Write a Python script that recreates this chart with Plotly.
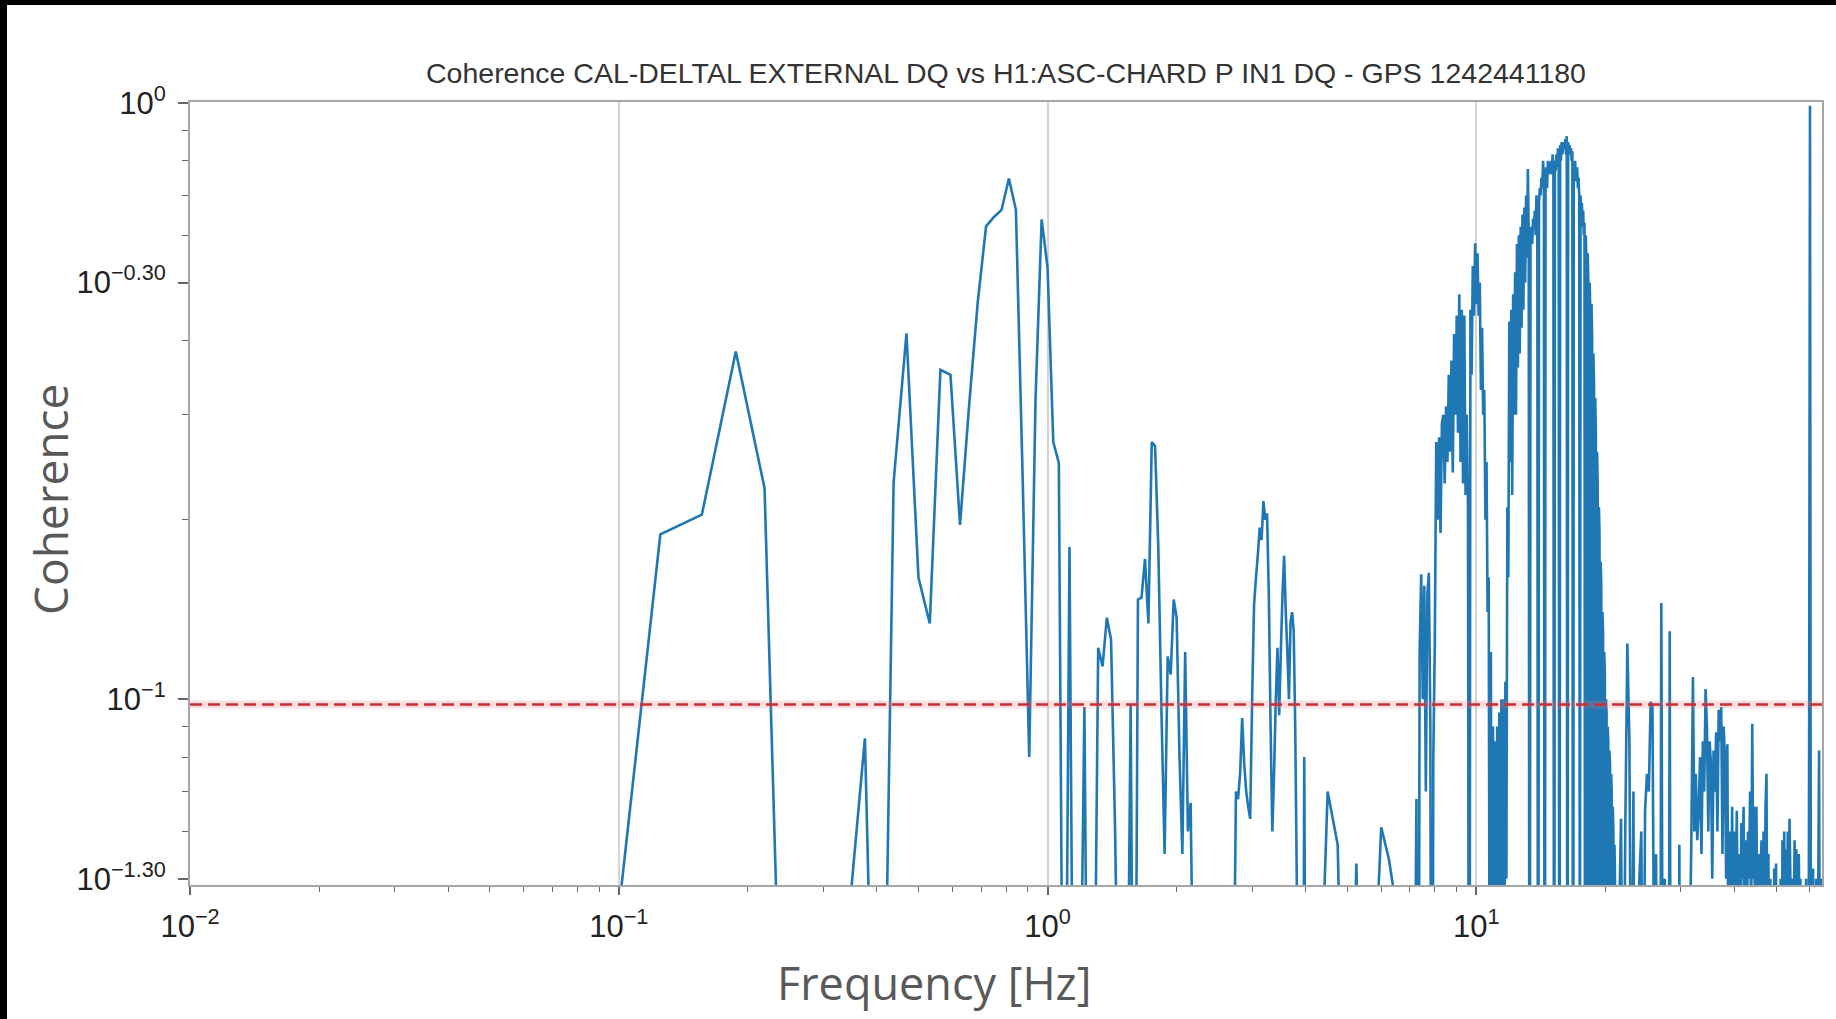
import numpy as np
import plotly.graph_objects as go

# ---------------- data ----------------
TITLE = "Coherence CAL-DELTAL EXTERNAL DQ vs H1:ASC-CHARD P IN1 DQ - GPS 1242441180"
X_LABEL = "Frequency [Hz]"
Y_LABEL = "Coherence"

# band 1: 1/32 Hz resolution, 0.03125 .. 4.0 Hz
LOW_START = 1 / 32
LOW_STEP = 1 / 32
LOW_COH = [
    0.02, 0.015, 0.029, 0.189, 0.204, 0.383, 0.226, 0.008, 0.01, 0.01,
    0.043, 0.086, 0.008, 0.231, 0.411, 0.16, 0.134, 0.357, 0.35, 0.196,
    0.311, 0.464, 0.621, 0.644, 0.662, 0.747, 0.662, 0.234, 0.08, 0.319,
    0.638, 0.53, 0.27, 0.249, 0.01, 0.18, 0.01, 0.02, 0.097, 0.01,
    0.02, 0.122, 0.1135, 0.137, 0.126, 0.06, 0.02, 0.01, 0.02, 0.098,
    0.01, 0.147, 0.148, 0.172, 0.134, 0.27, 0.266, 0.18, 0.095, 0.055,
    0.118, 0.11, 0.147, 0.137, 0.08, 0.055, 0.12, 0.06, 0.067, 0.03,
    0.02, 0.01, 0.02, 0.015, 0.02, 0.01, 0.02, 0.02, 0.01, 0.015,
    0.02, 0.01, 0.02, 0.02, 0.015, 0.02, 0.03, 0.07, 0.068, 0.075,
    0.093, 0.078, 0.07, 0.066, 0.063, 0.1, 0.144, 0.16, 0.175, 0.194,
    0.185, 0.215, 0.2, 0.205, 0.15, 0.09, 0.06, 0.075, 0.1, 0.122,
    0.094, 0.12, 0.15, 0.174, 0.14, 0.12, 0.1, 0.135, 0.14, 0.13,
    0.09, 0.05, 0.02, 0.01, 0.02, 0.01, 0.08, 0.02,
]

# band 2: 4.25 .. 7.0 Hz
MID_START = 4.25
MID_STEP = 0.25
MID_COH = [0.02, 0.07, 0.057, 0.01, 0.053, 0.01, 0.03, 0.061, 0.054, 0.045, 0.01, 0.03]

# band 3: 7.0625 .. 21.0 Hz (one row per Hz)
HIGH_START = 7.0625
HIGH_STEP = 0.0625
HIGH_COH = [
    0.01, 0.005, 0.03, 0.068, 0.005, 0.12, 0.162, 0.1, 0.155, 0.07, 0.15, 0.163, 0.09, 0.005, 0.08, 0.123,
    0.27, 0.2, 0.275, 0.19, 0.29, 0.3, 0.23, 0.31, 0.25, 0.35, 0.26, 0.37, 0.24, 0.41, 0.3, 0.44,
    0.28, 0.478, 0.25, 0.45, 0.23, 0.44, 0.22, 0.3, 0.21, 0.005, 0.45, 0.35, 0.533, 0.44, 0.582, 0.46,
    0.56, 0.44, 0.5, 0.33, 0.42, 0.3, 0.33, 0.2, 0.25, 0.14, 0.16, 0.02, 0.12, 0.02, 0.09, 0.01,
    0.085, 0.02, 0.09, 0.01, 0.095, 0.03, 0.1, 0.02, 0.1, 0.03, 0.107, 0.05, 0.21, 0.16, 0.43, 0.25,
    0.45, 0.22, 0.478, 0.3, 0.52, 0.3, 0.58, 0.36, 0.6, 0.38, 0.62, 0.42, 0.65, 0.45, 0.668, 0.5,
    0.7, 0.55, 0.775, 0.6, 0.005, 0.6, 0.62, 0.58, 0.64, 0.62, 0.66, 0.6, 0.7, 0.66, 0.005, 0.68,
    0.72, 0.7, 0.75, 0.72, 0.8, 0.74, 0.005, 0.76, 0.78, 0.72, 0.8, 0.77, 0.76, 0.78, 0.8, 0.76,
    0.82, 0.78, 0.005, 0.8, 0.77, 0.82, 0.78, 0.84, 0.8, 0.005, 0.85, 0.8, 0.86, 0.82, 0.84, 0.86,
    0.84, 0.87, 0.82, 0.88, 0.005, 0.86, 0.83, 0.85, 0.82, 0.84, 0.8, 0.83, 0.005, 0.8, 0.78, 0.8,
    0.74, 0.76, 0.78, 0.72, 0.75, 0.7, 0.02, 0.7, 0.64, 0.68, 0.62, 0.66, 0.6, 0.63, 0.01, 0.6,
    0.54, 0.03, 0.56, 0.5, 0.01, 0.5, 0.45, 0.04, 0.46, 0.4, 0.02, 0.38, 0.34, 0.03, 0.32, 0.28,
    0.02, 0.26, 0.23, 0.04, 0.21, 0.19, 0.03, 0.17, 0.155, 0.02, 0.14, 0.13, 0.03, 0.12, 0.11, 0.02,
    0.1, 0.095, 0.02, 0.09, 0.085, 0.01, 0.082, 0.078, 0.02, 0.075, 0.07, 0.02, 0.066, 0.06, 0.01, 0.057,
]

# band 4: 21.25 .. 64.0 Hz
TOP_START = 21.25
TOP_STEP = 0.25
TOP_COH = [
    0.03, 0.04, 0.063, 0.02, 0.06, 0.124, 0.085, 0.02, 0.07, 0.005,
    0.03, 0.05, 0.06, 0.02, 0.065, 0.075, 0.07, 0.099, 0.097, 0.03,
    0.055, 0.02, 0.005, 0.145, 0.02, 0.05, 0.03, 0.005, 0.13, 0.005,
    0.04, 0.02, 0.03, 0.005, 0.057, 0.005, 0.03, 0.04, 0.02, 0.03,
    0.045, 0.04, 0.06, 0.109, 0.06, 0.075, 0.058, 0.065, 0.08, 0.055,
    0.085, 0.07, 0.104, 0.09, 0.06, 0.085, 0.078, 0.05, 0.082, 0.07,
    0.088, 0.06, 0.096, 0.085, 0.097, 0.055, 0.09, 0.08, 0.05, 0.084,
    0.03, 0.06, 0.04, 0.066, 0.03, 0.06, 0.045, 0.065, 0.04, 0.055,
    0.03, 0.062, 0.05, 0.066, 0.03, 0.058, 0.04, 0.06, 0.05, 0.07,
    0.04, 0.091, 0.05, 0.066, 0.03, 0.066, 0.04, 0.055, 0.02, 0.05,
    0.058, 0.03, 0.06, 0.04, 0.066, 0.075, 0.03, 0.055, 0.02, 0.05,
    0.03, 0.045, 0.02, 0.052, 0.03, 0.053, 0.02, 0.04, 0.005, 0.03,
    0.05, 0.02, 0.058, 0.04, 0.06, 0.03, 0.056, 0.04, 0.06, 0.03,
    0.063, 0.05, 0.02, 0.05, 0.03, 0.045, 0.058, 0.03, 0.056, 0.04,
    0.02, 0.055, 0.04, 0.05, 0.02, 0.04, 0.045, 0.03, 0.04, 0.02,
    0.05, 0.03, 0.04, 0.02, 0.1, 0.99, 0.05, 0.02, 0.04, 0.052,
    0.03, 0.02, 0.04, 0.05, 0.02, 0.04, 0.05, 0.082, 0.03, 0.04,
    0.045, 0.05,
]

THRESHOLD = 0.098
X_RANGE_HZ = [0.01, 64.0]
Y_RANGE = [0.0488, 1.004]

X_TICKS = [0.01, 0.1, 1, 10]
X_TICKTEXT = ["10<sup>\u22122</sup>", "10<sup>\u22121</sup>", "10<sup>0</sup>", "10<sup>1</sup>"]
Y_TICKS = [1.0, 0.5, 0.1, 0.05]
Y_TICKTEXT = ["10<sup>0</sup>", "10<sup>\u22120.30</sup>", "10<sup>\u22121</sup>", "10<sup>\u22121.30</sup>"]
Y_MINOR = [0.9, 0.8, 0.7, 0.6, 0.4, 0.3, 0.2, 0.09, 0.08, 0.07, 0.06]
X_MINOR = [m * d for d in (0.01, 0.1, 1, 10) for m in range(2, 10) if m * d <= 64]

# ---------------- build ----------------
def band(start, step, vals):
    return start + step * np.arange(len(vals))

freq = np.concatenate([
    band(LOW_START, LOW_STEP, LOW_COH),
    band(MID_START, MID_STEP, MID_COH),
    band(HIGH_START, HIGH_STEP, HIGH_COH),
    band(TOP_START, TOP_STEP, TOP_COH),
])
coh = np.concatenate([LOW_COH, MID_COH, HIGH_COH, TOP_COH])

W, H = 1836, 1019
L, R, T, B = 190, 14, 102, 134
PW, PH = W - L - R, H - T - B

fig = go.Figure()
fig.add_trace(go.Scatter(
    x=freq, y=coh, mode="lines",
    line=dict(color="#1f77b4", width=2.6, simplify=False),
    hoverinfo="skip", showlegend=False,
))
fig.add_trace(go.Scatter(
    x=X_RANGE_HZ, y=[THRESHOLD, THRESHOLD], mode="lines",
    line=dict(color="rgba(255,110,110,0.22)", width=8),
    hoverinfo="skip", showlegend=False,
))
fig.add_trace(go.Scatter(
    x=X_RANGE_HZ, y=[THRESHOLD, THRESHOLD], mode="lines",
    line=dict(color="rgb(196,48,52)", width=2.4, dash="12px,6px"),
    hoverinfo="skip", showlegend=False,
))

def px_x(p):
    return (p - L) / PW

def px_y(p):
    return (H - B - p) / PH

shapes = [
    # black screenshot edges (top and left)
    dict(type="rect", xref="paper", yref="paper",
         x0=px_x(0), x1=px_x(7), y0=px_y(H), y1=px_y(0),
         fillcolor="black", line=dict(width=0), layer="above"),
    dict(type="rect", xref="paper", yref="paper",
         x0=px_x(0), x1=px_x(W), y0=px_y(5), y1=px_y(0),
         fillcolor="black", line=dict(width=0), layer="above"),
]

annotations = [
    dict(text=X_LABEL, xref="paper", yref="paper", x=px_x(934), y=px_y(982),
         xanchor="center", yanchor="middle", showarrow=False,
         font=dict(family="Open Sans, Arial", size=45, color="#595959")),
    dict(text=Y_LABEL, xref="paper", yref="paper", x=px_x(50), y=px_y(500),
         xanchor="center", yanchor="middle", showarrow=False, textangle=-90,
         font=dict(family="Open Sans, Arial", size=46, color="#595959")),
]

fig.update_layout(
    width=W, height=H, autosize=False,
    margin=dict(l=L, r=R, t=T, b=B, pad=0),
    paper_bgcolor="white", plot_bgcolor="white",
    title=dict(text=TITLE, x=0.5, xref="paper", xanchor="center",
               y=1 - 73 / H, yref="container", yanchor="middle",
               font=dict(family="Arial, Liberation Sans", size=28.5, color="#333333")),
    shapes=shapes,
    annotations=annotations,
    showlegend=False,
)

fig.update_xaxes(
    type="log", range=[np.log10(X_RANGE_HZ[0]), np.log10(X_RANGE_HZ[1])],
    tickmode="array", tickvals=X_TICKS, ticktext=X_TICKTEXT,
    tickfont=dict(family="Arial, Liberation Sans", size=31, color="#222222"),
    ticks="outside", ticklen=8, tickwidth=1.5, tickcolor="#666666",
    ticklabelstandoff=5,
    showgrid=True, gridcolor="#d4d4d4", gridwidth=1.5,
    showline=True, linecolor="#a6a6a6", linewidth=2, mirror=True,
    minor=dict(tickmode="array", tickvals=X_MINOR, ticks="outside", ticklen=5,
               tickwidth=1.2, tickcolor="#666666", showgrid=False),
    zeroline=False,
)
fig.update_yaxes(
    type="log", range=[np.log10(Y_RANGE[0]), np.log10(Y_RANGE[1])],
    tickmode="array", tickvals=Y_TICKS, ticktext=Y_TICKTEXT,
    tickfont=dict(family="Arial, Liberation Sans", size=31, color="#222222"),
    ticks="outside", ticklen=10, tickwidth=1.5, tickcolor="#666666",
    ticklabelstandoff=6,
    showgrid=False,
    showline=True, linecolor="#a6a6a6", linewidth=2, mirror=True,
    minor=dict(tickmode="array", tickvals=Y_MINOR, ticks="outside", ticklen=6,
               tickwidth=1.2, tickcolor="#666666", showgrid=False),
    zeroline=False,
)

fig.write_html(
    "out.html",
    config={"displayModeBar": False},
    post_script="document.body.style.margin='0';document.body.style.overflow='hidden';",
)
